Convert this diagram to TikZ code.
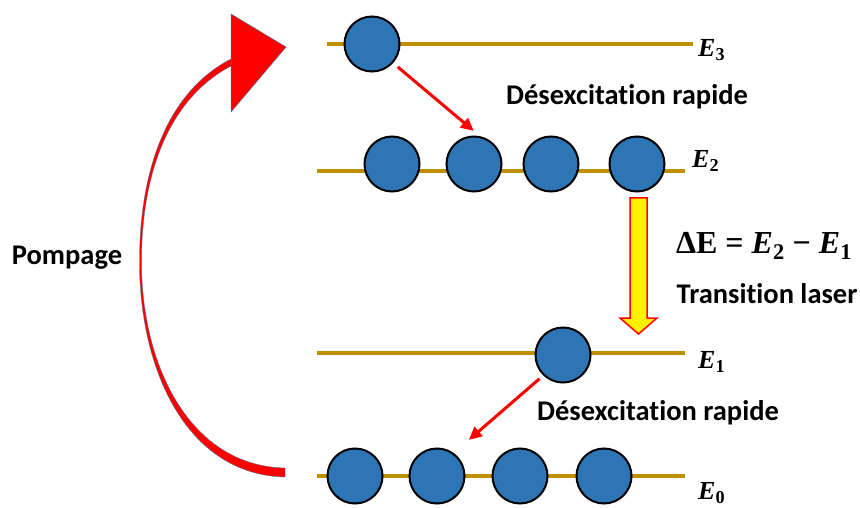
\documentclass[tikz,border=0pt]{standalone}
\usepackage{fontspec}
\setmainfont{Carlito}[RawFeature=-liga]
\newfontfamily\serifb{Liberation Serif}
\usetikzlibrary{arrows.meta}
\definecolor{gold}{HTML}{BF9000}
\definecolor{atomblue}{HTML}{2E75B6}
\definecolor{pumpred}{HTML}{FF0000}
\definecolor{edgeblue}{HTML}{41719C}
\tikzset{
  level/.style={draw=gold,line width=4pt},
  atom/.style={circle,draw=black,line width=2pt,fill=atomblue,minimum size=55pt,inner sep=0pt},
  decay/.style={draw=red,line width=3pt,-{Triangle[length=13pt,width=12pt]}},
  lbl/.style={font=\fontsize{28.5}{32}\selectfont\bfseries,inner sep=0pt},
  elbl/.style={font=\serifb\fontsize{26}{28}\selectfont\bfseries\itshape,anchor=west,inner sep=0pt},
}
\newcommand{\En}[1]{E\textsubscript{\upshape#1}}
\begin{document}
\begin{tikzpicture}[x=1pt,y=-1pt]
\useasboundingbox (0,0) rectangle (860,508);
% levels
\coordinate (l3a) at (327,44);  \coordinate (l3b) at (693,44);
\coordinate (l2a) at (317,171); \coordinate (l2b) at (685,171);
\coordinate (l1a) at (317,353); \coordinate (l1b) at (685,353);
\coordinate (l0a) at (317,476); \coordinate (l0b) at (685,476);
\draw[level] (l3a) -- (l3b);
\draw[level] (l2a) -- (l2b);
\draw[level] (l1a) -- (l1b);
\draw[level] (l0a) -- (l0b);
% labels of levels
\node[elbl] (e3) at (698,50) {\En{3}};
\node[elbl] (e2) at (692,161) {\En{2}};
\node[elbl] (e1) at (698,362) {\En{1}};
\node[elbl] (e0) at (698,493) {\En{0}};
% atoms
\node[atom] (a3) at (372,44) {};
\node[atom] (b1) at (392,164) {};
\node[atom] (b2) at (474,164) {};
\node[atom] (b3) at (551,164) {};
\node[atom] (b4) at (637,164) {};
\node[atom] (c1) at (563,355) {};
\node[atom] (d1) at (355,476) {};
\node[atom] (d2) at (437,476) {};
\node[atom] (d3) at (520,476) {};
\node[atom] (d4) at (604,476) {};
% decays
\draw[decay,shorten <=6pt,shorten >=8pt] (a3.-42) -- (b2.78);
\draw[decay,shorten <=5pt,shorten >=20pt] (c1.226) -- (d2.54);
\node[lbl] (t1) at (627,97) {Désexcitation rapide};
\node[lbl] (t2) at (658,413) {Désexcitation rapide};
% laser transition arrow
\draw[draw=red,line width=1.5pt,fill=yellow,line join=miter]
  (630,198) -- (647,198) -- (647,318) -- (657,318) -- (638.5,334) -- (620,318) -- (630,318) -- cycle;
\node[inner sep=0pt,font=\serifb\fontsize{32}{34}\selectfont\bfseries] (de) at (764,246)
  {ΔE = \textit{E}\textsubscript{2} − \textit{E}\textsubscript{1}};
\node[lbl] (tl) at (767,294) {Transition laser};
% pumping
\node[lbl] (pp) at (67,258) {Pompage};
\fill[pumpred,draw=edgeblue,line width=0.3pt]
  (285,477) .. controls (188,475) and (139.5,372) .. (139.5,262)
  .. controls (139.5,158) and (174,87) .. (233,58) -- (233,65)
  .. controls (177,93) and (141.5,160) .. (141.5,262)
  .. controls (141.5,366) and (190,466) .. (285,468) -- cycle;
\fill[pumpred,draw=edgeblue,line width=0.5pt] (231,14) -- (286,47) -- (231,112) -- cycle;
\end{tikzpicture}
\end{document}
